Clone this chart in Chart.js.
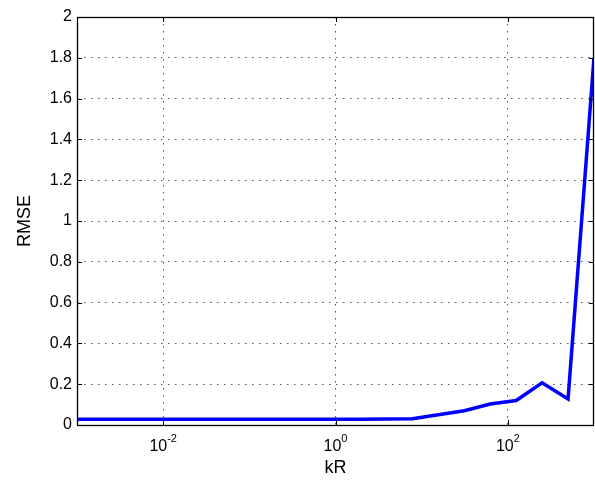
<!DOCTYPE html>
<html>
<head>
<meta charset="utf-8">
<script src="https://cdn.jsdelivr.net/npm/chart.js@4/dist/chart.umd.min.js"></script>
<style>
  html, body { margin: 0; padding: 0; background: #fff; }
  #wrap { width: 595px; height: 480px; }
</style>
</head>
<body>
<div id="wrap"><canvas id="c" width="595" height="480"></canvas></div>
<script>
// ---- data ----
const kR = [0.000954, 0.00191, 0.00381, 0.00763, 0.0153, 0.0305, 0.061, 0.122, 0.244, 0.488,
            0.977, 1.95, 3.91, 7.81, 15.6, 31.3, 62.5, 125, 250, 500, 1000];
const rmse = [0.028, 0.028, 0.028, 0.028, 0.028, 0.028, 0.028, 0.028, 0.028, 0.028,
              0.028, 0.028, 0.029, 0.031, 0.05, 0.07, 0.103, 0.12, 0.207, 0.128, 1.8];
const xTickValues = [0.01, 1, 100];
const xTickExponents = ['-2', '0', '2'];
const yTickLabels = ['0', '0.2', '0.4', '0.6', '0.8', '1', '1.2', '1.4', '1.6', '1.8', '2'];
const xTitle = 'kR';
const yTitle = 'RMSE';

const FONT = "'Liberation Sans', Arial, Helvetica, sans-serif";

const framePlugin = {
  id: 'frame',
  afterDraw(chart) {
    const { ctx, chartArea: a, scales: { x, y } } = chart;
    ctx.save();
    ctx.strokeStyle = '#000';
    ctx.lineWidth = 1;
    // inward ticks
    ctx.beginPath();
    xTickValues.forEach(v => {
      const px = Math.round(x.getPixelForValue(v)) + 0.5;
      ctx.moveTo(px, a.bottom); ctx.lineTo(px, a.bottom - 5);
      ctx.moveTo(px, a.top); ctx.lineTo(px, a.top + 5);
    });
    y.ticks.forEach(t => {
      const py = Math.round(y.getPixelForValue(t.value)) + 0.5;
      ctx.moveTo(a.left, py); ctx.lineTo(a.left + 5, py);
      ctx.moveTo(a.right, py); ctx.lineTo(a.right - 5, py);
    });
    ctx.stroke();
    // box
    ctx.lineWidth = 1.3;
    ctx.strokeRect(Math.round(a.left) + 0.5, Math.round(a.top) + 0.5,
                   Math.round(a.right - a.left) - 1, Math.round(a.bottom - a.top));
    // x tick labels 10^n
    ctx.fillStyle = '#000';
    ctx.textBaseline = 'alphabetic';
    xTickValues.forEach((v, i) => {
      const px = x.getPixelForValue(v);
      ctx.font = '16px ' + FONT;
      const wb = ctx.measureText('10').width;
      ctx.font = '11px ' + FONT;
      const we = ctx.measureText(xTickExponents[i]).width;
      const left = px - (wb + we) / 2;
      ctx.font = '16px ' + FONT;
      ctx.textAlign = 'left';
      ctx.fillText('10', left, 451);
      ctx.font = '11px ' + FONT;
      ctx.fillText(xTickExponents[i], left + wb, 442);
    });
    ctx.restore();
  }
};

new Chart(document.getElementById('c'), {
  type: 'line',
  data: {
    datasets: [{
      data: kR.map((v, i) => ({ x: v, y: rmse[i] })),
      borderColor: '#0000ff',
      borderWidth: 3.5,
      pointRadius: 0,
      tension: 0,
      fill: false
    }]
  },
  options: {
    responsive: false,
    devicePixelRatio: 1,
    animation: false,
    layout: { padding: { top: 17, right: 1, left: 0, bottom: 0 } },
    plugins: { legend: { display: false }, tooltip: { enabled: false } },
    scales: {
      x: {
        type: 'logarithmic',
        min: 0.001,
        max: 1000,
        afterBuildTicks: s => { s.ticks = xTickValues.map(v => ({ value: v })); },
        afterFit: s => { s.height = 55; },
        ticks: { display: false },
        grid: { color: '#555', lineWidth: 1, drawTicks: false },
        border: { display: false, dash: [1.5, 5.5] },
        title: { display: true, text: xTitle, color: '#000',
                 font: { family: FONT, size: 18 }, padding: { top: 0, bottom: 1 } }
      },
      y: {
        min: 0,
        max: 2,
        afterFit: s => { s.width = 77; },
        ticks: {
          stepSize: 0.2,
          color: '#000',
          font: { family: FONT, size: 16 },
          padding: 5,
          callback: (v, i) => yTickLabels[i]
        },
        grid: { color: '#555', lineWidth: 1, drawTicks: false },
        border: { display: false, dash: [1.5, 5.5] },
        title: { display: true, text: yTitle, color: '#000',
                 font: { family: FONT, size: 18 }, padding: { top: 14, bottom: 0 } }
      }
    }
  },
  plugins: [framePlugin]
});
</script>
</body>
</html>
